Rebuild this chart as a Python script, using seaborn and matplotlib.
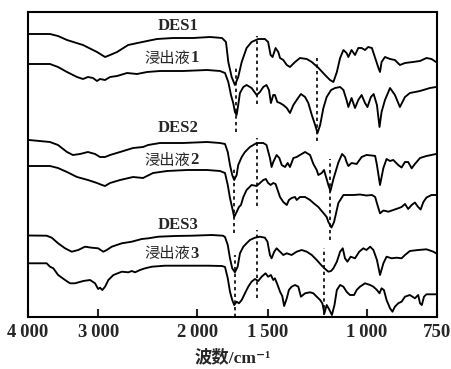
import matplotlib
matplotlib.use("Agg")
import matplotlib.pyplot as plt
import seaborn as sns
import pandas as pd
from matplotlib.ticker import NullLocator, FixedLocator, FixedFormatter

# ---------------- data (wavenumber cm-1, relative signal with stacking offset) ----------------
wn_des1 = [3984, 3656, 3538, 3410, 3194, 3016, 2918, 2859, 2778, 2655, 2457, 2359, 2209, 2036, 1899,
           1808, 1779, 1762, 1738, 1715, 1692, 1668, 1635, 1602, 1559, 1517, 1497, 1482, 1470, 1452,
           1436, 1426, 1407, 1387, 1369, 1341, 1314, 1278, 1252, 1218, 1186, 1162, 1146, 1130, 1115,
           1100, 1086, 1078, 1064, 1049, 1035, 1021, 1007, 994, 979, 966, 953, 947, 941, 928,
           909, 891, 873, 855, 828, 804, 783, 767, 753]
t_des1 = [283, 283, 281, 277, 272, 265, 260, 262, 265, 272, 276, 278, 279, 279, 280,
          279, 275, 255, 240, 232, 240, 255, 269, 275, 278, 278, 275, 262, 260, 269,
          265, 259, 257, 252, 250, 255, 259, 258, 255, 249, 242, 237, 235, 245, 259,
          267, 264, 260, 267, 262, 269, 269, 267, 270, 269, 259, 249, 245, 255, 260,
          258, 257, 252, 254, 255, 256, 259, 258, 255]

wn_leach1 = [3984, 3656, 3538, 3410, 3273, 3194, 3130, 3066, 3016, 2979, 2918, 2859, 2778, 2667, 2560,
             2457, 2330, 2121, 1922, 1823, 1786, 1762, 1743, 1727, 1715, 1703, 1692, 1680, 1657, 1635,
             1602, 1569, 1548, 1527, 1507, 1492, 1480, 1466, 1456, 1442, 1426, 1407, 1387, 1369, 1350,
             1332, 1309, 1287, 1270, 1252, 1235, 1223, 1210, 1194, 1178, 1157, 1138, 1115, 1100, 1086,
             1078, 1064, 1049, 1035, 1021, 1007, 997, 983, 972, 959, 949, 941, 928, 909, 891,
             873, 855, 838, 804, 772, 753]
t_leach1 = [253, 253, 250, 245, 240, 238, 240, 239, 236, 238, 237, 240, 241, 244, 243,
            245, 246, 246, 247, 246, 244, 235, 222, 214, 205, 202, 212, 224, 230, 232,
            229, 222, 225, 230, 232, 227, 214, 222, 222, 215, 214, 212, 209, 204, 212,
            217, 223, 220, 214, 202, 192, 184, 192, 209, 220, 227, 229, 230, 227, 217,
            210, 219, 209, 217, 222, 214, 210, 220, 223, 212, 190, 205, 217, 229, 222,
            210, 220, 224, 226, 229, 230]

wn_des2 = [3984, 3656, 3538, 3410, 3328, 3233, 3130, 3040, 2979, 2918, 2859, 2744, 2602, 2498, 2447,
           2330, 2121, 1922, 1823, 1786, 1766, 1750, 1734, 1720, 1703, 1692, 1668, 1646, 1613, 1569,
           1527, 1507, 1486, 1476, 1466, 1446, 1430, 1416, 1397, 1382, 1369, 1350, 1332, 1314, 1287,
           1261, 1244, 1227, 1219, 1202, 1191, 1181, 1170, 1160, 1146, 1123, 1106, 1093, 1086, 1078,
           1064, 1042, 1021, 1001, 979, 966, 959, 947, 934, 922, 909, 897, 879, 867, 855,
           844, 832, 821, 804, 783, 753]
t_des2 = [177, 175, 172, 165, 162, 163, 165, 163, 160, 160, 162, 165, 169, 170, 172,
          174, 174, 175, 174, 173, 165, 152, 142, 137, 142, 152, 160, 165, 170, 174,
          174, 172, 159, 150, 155, 162, 159, 152, 150, 154, 150, 159, 160, 162, 165,
          162, 153, 147, 142, 144, 147, 140, 132, 126, 138, 154.5, 163, 160, 155, 151,
          154, 153, 160, 162, 161.5, 161, 152, 132, 149, 158, 156, 157, 152, 149.5, 155,
          155, 148.7, 153, 159, 161, 163]

wn_leach2 = [3984, 3656, 3538, 3410, 3273, 3130, 3016, 2955, 2918, 2859, 2744, 2602, 2498, 2398, 2264,
             2086, 1922, 1823, 1786, 1766, 1750, 1734, 1720, 1703, 1687, 1673, 1657, 1635, 1602, 1569,
             1548, 1527, 1511, 1497, 1482, 1466, 1452, 1436, 1426, 1407, 1387, 1375, 1360, 1341, 1332,
             1314, 1287, 1261, 1244, 1219, 1194, 1178, 1170, 1155, 1143, 1123, 1100, 1078, 1056, 1028,
             1001, 979, 966, 957, 947, 934, 915, 897, 879, 867, 855, 844, 832, 821, 811,
             802, 793, 783, 767, 753]
t_leach2 = [151, 151, 149, 145, 140, 137, 134, 132, 131, 134, 137, 140, 139, 144, 146,
            147, 147, 146, 144, 132, 119, 109, 100, 105, 110, 112, 120, 127, 132, 131,
            134, 137, 138, 134, 132, 134, 133, 125, 120, 115, 112, 117, 119, 120, 117,
            120, 120, 117, 114, 110, 104, 100, 95, 89.5, 95, 114, 122, 122, 122, 122.5,
            121.5, 122, 120, 112, 103.7, 106.5, 105.3, 107, 108.7, 110, 113, 108, 112, 114.5, 110.3,
            107.5, 115, 119.5, 122, 122]

wn_des3 = [3984, 3706, 3630, 3536, 3437, 3345, 3256, 3168, 3082, 3002, 2939, 2898, 2839, 2725, 2616,
           2511, 2444, 2346, 2191, 2047, 1886, 1801, 1786, 1766, 1750, 1734, 1715, 1696, 1680, 1657,
           1635, 1613, 1580, 1548, 1517, 1501, 1486, 1476, 1460, 1446, 1426, 1407, 1387, 1360, 1332,
           1305, 1278, 1252, 1227, 1205, 1189, 1170, 1157, 1146, 1130, 1115, 1103, 1093, 1082, 1068,
           1049, 1031, 1014, 1001, 986, 973, 959, 947, 934, 922, 903, 885, 867, 855, 838,
           810, 783, 761, 753]
t_des3 = [81.5, 81.3, 79.3, 73.7, 68.7, 65.3, 67, 70.3, 69.3, 68.7, 65.3, 67, 70.3, 73.7, 75.3,
          78, 78.7, 80.3, 81, 81.3, 82, 81.3, 80, 72, 58.7, 48.7, 44.7, 50.3, 63.7, 70.3,
          73.7, 77, 79.3, 80.3, 79.3, 75.3, 62, 58.7, 65.3, 68.7, 65.3, 62, 63.7, 62, 65.3,
          67, 65.3, 62, 57, 52, 48.7, 45.3, 46, 48.7, 55.3, 65.3, 68.7, 58.7, 55.3, 60.3,
          58.7, 65.3, 68.7, 67, 70.3, 67, 57, 42, 53.7, 60.3, 58.7, 59.3, 58.7, 62, 66,
          67, 67.7, 65.3, 63.7]

wn_leach3 = [3984, 3706, 3656, 3606, 3536, 3437, 3368, 3300, 3190, 3103, 3040, 3002, 2979, 2951, 2918,
             2879, 2820, 2725, 2652, 2616, 2581, 2529, 2477, 2410, 2283, 2103, 1912, 1808, 1786, 1766,
             1750, 1734, 1720, 1703, 1687, 1668, 1646, 1624, 1602, 1580, 1559, 1537, 1513, 1497, 1480,
             1466, 1456, 1440, 1426, 1413, 1402, 1387, 1375, 1360, 1341, 1323, 1309, 1287, 1261, 1244,
             1227, 1210, 1199, 1189, 1178, 1167, 1153, 1141, 1130, 1115, 1100, 1086, 1071, 1053, 1042,
             1028, 1007, 986, 973, 959, 949, 941, 932, 922, 909, 900, 891, 879, 867, 855,
             838, 821, 810, 804, 798, 791, 783, 767, 753]
t_leach3 = [53.7, 53.7, 50.3, 48.7, 42, 37, 33.7, 33.7, 36, 37, 33.7, 28, 29.3, 27, 30.3,
            37, 42, 45.3, 44.7, 46, 44.7, 47, 48.7, 50.3, 51.3, 51.3, 51.3, 51, 50, 38.7,
            25.3, 17, 12, 15.3, 13.7, 17, 23.7, 30.3, 35.3, 38, 36, 40.3, 43.7, 40.3, 42,
            37, 38.7, 32, 25.3, 21, 11, 18.7, 27, 30.3, 32, 30.3, 20.3, 23.7, 24.7, 23.7,
            20.3, 17, 13.7, 3.7, 12, 8, 2, 12, 27, 32, 30.3, 25.3, 22, 22, 27,
            30.3, 33.7, 32, 30.3, 27, 23.7, 28.7, 27, 17, 8.7, 5.3, 10.3, 13.7, 15.3, 20.3,
            22, 18.7, 22, 13.7, 12, 20.3, 22.7, 22.7, 22.7]

series_names = ["DES1", "浸出液1", "DES2", "浸出液2", "DES3", "浸出液3"]

# reference (dashed) band positions and their vertical spans per group
band_wn = [1710, 1568, 1225, 1720, 1565, 1162, 1715, 1567, 1191]
band_lo = [185, 213, 176, 84, 111, 77, 0, 19, 2]
band_hi = [250, 281, 259, 149, 179, 158, 62, 87, 69]

# label anchors (right edge) and heights
label_x = 1990
label_y = [290.5, 259, 189.5, 157, 92.3, 63.3]

xticks = [4000, 3000, 2000, 1500, 1000, 750]
xtick_labels = ["4\u2009000", "3\u2009000", "2\u2009000", "1\u2009500", "1\u2009000", "750"]

# ---------------- plotting ----------------
sns.set_theme(style="ticks")
plt.rcParams["font.family"] = ["Liberation Serif", "Noto Sans CJK SC", "DejaVu Sans"]

fig = plt.figure(figsize=(4.52, 3.69), dpi=100)
ax = fig.add_axes([28 / 452, 1 - 317 / 369, (437 - 28) / 452, (317 - 12) / 369])

curves = [(wn_des1, t_des1), (wn_leach1, t_leach1), (wn_des2, t_des2),
          (wn_leach2, t_leach2), (wn_des3, t_des3), (wn_leach3, t_leach3)]
for name, (wn, tv) in zip(series_names, curves):
    df = pd.DataFrame({"wn": wn, "t": tv})
    sns.lineplot(data=df, x="wn", y="t", ax=ax, color="black", lw=1.35,
                 estimator=None, sort=True)

for w, lo, hi in zip(band_wn, band_lo, band_hi):
    ax.plot([w, w], [lo, hi], color="black", lw=1.2, linestyle=(0, (2, 2)))

ax.set_xscale("log")
ax.set_xlim(4000, 750)
ax.set_ylim(0, 305)
ax.xaxis.set_major_locator(FixedLocator(xticks))
ax.xaxis.set_major_formatter(FixedFormatter(xtick_labels))
ax.xaxis.set_minor_locator(NullLocator())
ax.set_yticks([])
ax.set_ylabel("")
ax.tick_params(axis="x", direction="in", length=6, width=1.5, pad=5,
               labelsize=13.5)
for lbl in ax.get_xticklabels():
    lbl.set_fontweight("bold")
for sp in ax.spines.values():
    sp.set_linewidth(1.5)
    sp.set_color("black")

ax.set_xlabel("波数/cm\u207b\u00b9", fontsize=12.5, fontweight="bold",
              family=["Liberation Serif", "Noto Sans CJK SC", "DejaVu Sans"], labelpad=6)

for i, (name, yy) in enumerate(zip(series_names, label_y)):
    if name.startswith("DES"):
        ax.text(label_x, yy, name, ha="right", va="center", fontsize=12,
                fontweight="bold", family=["Liberation Serif"])
    else:
        ax.annotate(name[-1], xy=(label_x, yy), ha="right", va="center",
                    fontsize=12, fontweight="bold", family=["Liberation Serif"])
        ax.annotate(name[:-1], xy=(label_x, yy), xytext=(-5.8, 0),
                    textcoords="offset points", ha="right", va="center",
                    fontsize=11, family=["Noto Sans CJK SC"])

fig.savefig("out.png", dpi=100)
